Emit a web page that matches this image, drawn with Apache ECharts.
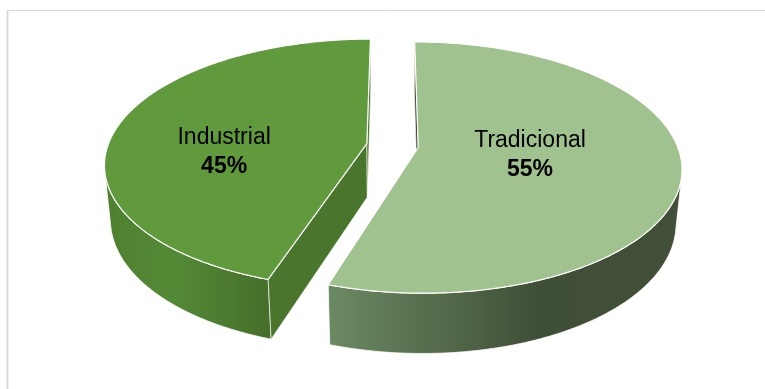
<!DOCTYPE html>
<html>
<head>
<meta charset="utf-8">
<script src="https://cdn.jsdelivr.net/npm/echarts@6/dist/echarts.min.js"></script>
<style>
  html, body { margin: 0; padding: 0; background: #ffffff; }
  #chart { width: 765px; height: 389px; }
</style>
</head>
<body>
<div id="chart"></div>
<script>
// Slice names and their shares (per cent)
const categories = ['Tradicional', 'Industrial'];
const shares = [55, 45];

// Look of each slice: top colour, wall gradient, radial cut colour, label anchor (radius fraction, angle)
const sliceStyles = {
  Tradicional: {
    top: '#A0C28E',
    wall: [[0, '#6B8A63'], [0.3, '#566C4C'], [0.6, '#3F4E36'], [1, '#435039']],
    face: '#3C4A33',
    label: { r: 0.43, a: 99 }
  },
  Industrial: {
    top: '#609A3D',
    wall: [[0, '#4E7F30'], [0.4, '#548A36'], [1, '#456E2A']],
    face: '#4A752C',
    label: { r: 0.55, a: 262 }
  }
};

// Tilted, perspective view of the disc
const view = {
  cx: 392.5, cy: 145.5,      // screen position of the disc centre (top face)
  R: 259,                    // radius
  tilt: 28.05 * Math.PI / 180,
  focal: 1429,
  thickness: 62,
  explode: 26
};
const RAD = Math.PI / 180;

function project(X, Y, Z) {
  const c = Math.cos(view.tilt), s = Math.sin(view.tilt);
  const d = Y * c - Z * s;
  const k = view.focal / (view.focal + d);
  return [view.cx + X * k, view.cy - (Y * s + Z * c) * k];
}

// Angular extent of every slice, clockwise from 12 o'clock
const total = shares.reduce((a, b) => a + b, 0);
let acc = 0;
const slices = categories.map((name, i) => {
  const start = acc / total * 360;
  acc += shares[i];
  return { name, value: shares[i], start, end: acc / total * 360 };
});

const camY = -view.focal * Math.cos(view.tilt);

function renderSlice(params, api) {
  const sl = slices[params.dataIndex];
  const st = sliceStyles[sl.name];
  const mid = (sl.start + sl.end) / 2 * RAD;
  const ox = view.explode * Math.sin(mid), oy = view.explode * Math.cos(mid);
  const H = view.thickness;
  const rim = (deg, z) => project(ox + view.R * Math.sin(deg * RAD), oy + view.R * Math.cos(deg * RAD), z);
  const apex = z => project(ox, oy, z);
  const children = [];

  // outer wall: only the part that faces the viewer
  const facing = deg => {
    const t = deg * RAD;
    return view.R + ox * Math.sin(t) + (oy - camY) * Math.cos(t) < 0;
  };
  const step = 0.5;
  let run = [];
  const runs = [];
  for (let d = sl.start; d <= sl.end + 1e-9; d += step) {
    const dd = Math.min(d, sl.end);
    if (facing(dd)) run.push(dd); else if (run.length) { runs.push(run); run = []; }
  }
  if (run.length) runs.push(run);
  runs.forEach(r => {
    const pts = r.map(d => rim(d, 0)).concat(r.slice().reverse().map(d => rim(d, -H)));
    children.push({
      type: 'polygon',
      shape: { points: pts },
      style: {
        fill: { type: 'linear', x: 0, y: 0, x2: 1, y2: 0,
                colorStops: st.wall.map(([o, c]) => ({ offset: o, color: c })) },
        stroke: '#ffffff', lineWidth: 0.8
      },
      z2: 1
    });
  });

  // radial cut faces
  const faces = [
    { deg: sl.start, n: [-Math.cos(sl.start * RAD), Math.sin(sl.start * RAD)] },
    { deg: sl.end, n: [Math.cos(sl.end * RAD), -Math.sin(sl.end * RAD)] }
  ];
  faces.forEach(f => {
    const dot = ox * f.n[0] + (oy - camY) * f.n[1];
    if (dot < 0) {
      children.push({
        type: 'polygon',
        shape: { points: [apex(0), rim(f.deg, 0), rim(f.deg, -H), apex(-H)] },
        style: { fill: st.face, stroke: '#ffffff', lineWidth: 0.6 },
        z2: 2
      });
    }
  });

  // top face
  const topPts = [apex(0)];
  for (let d = sl.start; d <= sl.end + 1e-9; d += step) topPts.push(rim(Math.min(d, sl.end), 0));
  topPts.push(rim(sl.end, 0));
  children.push({
    type: 'polygon',
    shape: { points: topPts },
    style: { fill: st.top, stroke: '#ffffff', lineWidth: 1.2 },
    z2: 3
  });

  // label: name and share
  const la = st.label.a * RAD, lr = st.label.r * view.R;
  const lp = project(ox + lr * Math.sin(la), oy + lr * Math.cos(la), 0);
  const pct = Math.round(api.value(0) / total * 100) + '%';
  children.push({
    type: 'text', x: lp[0], y: lp[1] - 15, z2: 4,
    style: { text: sl.name, fill: '#000000', font: '23px "Liberation Sans", Arial, sans-serif',
             align: 'center', verticalAlign: 'middle' }
  });
  children.push({
    type: 'text', x: lp[0], y: lp[1] + 14, z2: 4,
    style: { text: pct, fill: '#000000', font: 'bold 23px "Liberation Sans", Arial, sans-serif',
             align: 'center', verticalAlign: 'middle' }
  });

  return { type: 'group', children };
}

const chart = echarts.init(document.getElementById('chart'), null, { renderer: 'canvas' });
chart.setOption({
  animation: false,
  backgroundColor: '#ffffff',
  graphic: [
    { type: 'line', shape: { x1: 7.5, y1: 10.5, x2: 765, y2: 10.5 }, style: { stroke: '#D9D9D9', lineWidth: 1 } },
    { type: 'line', shape: { x1: 7.5, y1: 10, x2: 7.5, y2: 389 }, style: { stroke: '#D9D9D9', lineWidth: 2 } }
  ],
  series: [{
    type: 'custom',
    coordinateSystem: 'none',
    silent: true,
    renderItem: renderSlice,
    data: slices.map(s => [s.value])
  }]
});
</script>
</body>
</html>
